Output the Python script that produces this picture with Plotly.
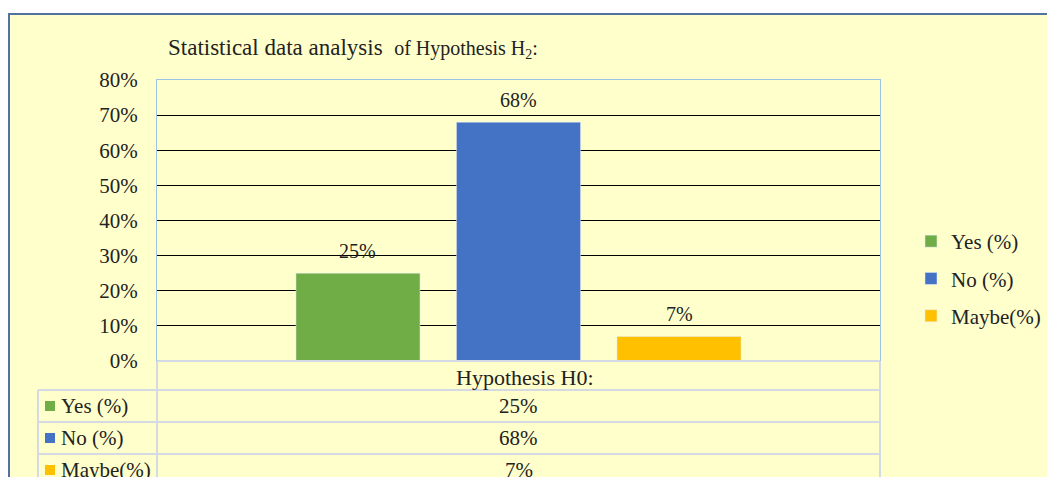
import plotly.graph_objects as go

# ---- data ----
category = ["Hypothesis H0:"]
series_names = ["Yes (%)", "No (%)", "Maybe(%)"]
series_values = [25, 68, 7]
series_colors = ["#70AD47", "#4472C4", "#FFC000"]
y_ticks = [0, 10, 20, 30, 40, 50, 60, 70, 80]
title_main = "Statistical data analysis&nbsp;&nbsp;"
title_sub = "of Hypothesis H<sub>2</sub>:"

W, H = 1055, 477
FONT = "Liberation Serif"
TXT = "#222222"


def px(x):
    return x / W


def py(y):
    return 1 - y / H


# plot-area geometry (figure pixels)
PL, PR, PT, PB = 149, 872, 72, 353
BARGAP, BARGROUPGAP = 0.334, 0.227
slot_px = (1 - BARGAP) * (PR - PL) / len(series_names)

fig = go.Figure()
for i, (name, val, col) in enumerate(zip(series_names, series_values, series_colors)):
    fig.add_trace(go.Bar(
        x=category, y=[val], name=name, marker_color=col,
        legendgroup=f"g{i}",
    ))

shapes = []
annotations = []

# bar value labels
for i, val in enumerate(series_values):
    annotations.append(dict(text=f"{val}%", xref="x", yref="y", x=category[0], y=val,
                            xshift=(i - (len(series_values) - 1) / 2) * slot_px, yshift=9,
                            xanchor="center", yanchor="bottom", showarrow=False,
                            font=dict(family=FONT, size=20, color=TXT)))

# outer chart frame
shapes.append(dict(type="rect", xref="paper", yref="paper", x0=px(1), x1=px(1080),
                   y0=py(500), y1=py(6), fillcolor="#FFFFCC",
                   line=dict(color="#52739F", width=2), layer="below"))

# data table
grid_col = "#D3DAE4"
for yy in [382, 414, 446]:
    shapes.append(dict(type="line", xref="paper", yref="paper", x0=px(30), x1=px(PR),
                       y0=py(yy), y1=py(yy), line=dict(color=grid_col, width=2)))
shapes.append(dict(type="line", xref="paper", yref="paper", x0=px(30), x1=px(30),
                   y0=py(382), y1=py(490), line=dict(color=grid_col, width=2)))
for xx in (PL, PR):
    shapes.append(dict(type="line", xref="paper", yref="paper", x0=px(xx), x1=px(xx),
                       y0=py(PB), y1=py(490), line=dict(color=grid_col, width=2)))
shapes.append(dict(type="line", xref="paper", yref="paper", x0=px(PL), x1=px(PR),
                   y0=py(PB), y1=py(PB), line=dict(color=grid_col, width=2)))

annotations.append(dict(text=category[0], xref="paper", yref="paper",
                        x=px((PL + PR) / 2 + 6), y=py(369), xanchor="center", yanchor="middle",
                        showarrow=False, font=dict(family=FONT, size=22, color=TXT)))
row_centers = [398, 430, 462]
for name, val, col, yc in zip(series_names, series_values, series_colors, row_centers):
    shapes.append(dict(type="rect", xref="paper", yref="paper", x0=px(37), x1=px(47),
                       y0=py(yc + 5), y1=py(yc - 5), fillcolor=col, line=dict(width=0)))
    annotations.append(dict(text=name, xref="paper", yref="paper", x=px(51), y=py(yc),
                            xanchor="left", yanchor="middle", showarrow=False,
                            font=dict(family=FONT, size=21, color=TXT)))
    annotations.append(dict(text=f"{val}%", xref="paper", yref="paper",
                            x=px((PL + PR) / 2), y=py(yc), xanchor="center", yanchor="middle",
                            showarrow=False, font=dict(family=FONT, size=21, color=TXT)))

fig.update_layout(
    width=W, height=H,
    margin=dict(l=0, r=0, t=0, b=0, autoexpand=False),
    paper_bgcolor="white",
    plot_bgcolor="#E3F9FF",
    font=dict(family=FONT, size=20, color=TXT),
    title=dict(text=f"{title_main}<span style='font-size:20px'>{title_sub}</span>",
               x=px(160), xanchor="left", y=py(39), yanchor="middle",
               font=dict(family=FONT, size=23, color=TXT)),
    barmode="group", bargap=BARGAP, bargroupgap=BARGROUPGAP,
    xaxis=dict(domain=[px(PL), px(PR)], showticklabels=False, showgrid=False,
               showline=True, mirror=True, linecolor="#9DC3E6", linewidth=1,
               ticks="", zeroline=False),
    yaxis=dict(domain=[py(PB), py(PT)], range=[0, 80], tickmode="array",
               tickvals=y_ticks, ticktext=[f"{t}%" for t in y_ticks],
               showgrid=True, gridcolor="#000000", gridwidth=1,
               showline=True, mirror=True, linecolor="#9DC3E6", linewidth=1,
               zeroline=False, ticks="", ticklabelstandoff=14,
               tickfont=dict(family=FONT, size=21, color=TXT)),
    legend=dict(x=px(903), y=py(213), xanchor="left", yanchor="top",
                bgcolor="rgba(0,0,0,0)", tracegroupgap=7,
                font=dict(family=FONT, size=21, color=TXT),
                itemwidth=30),
    showlegend=True,
    shapes=shapes,
    annotations=annotations,
)

fig.write_html("out.html")
